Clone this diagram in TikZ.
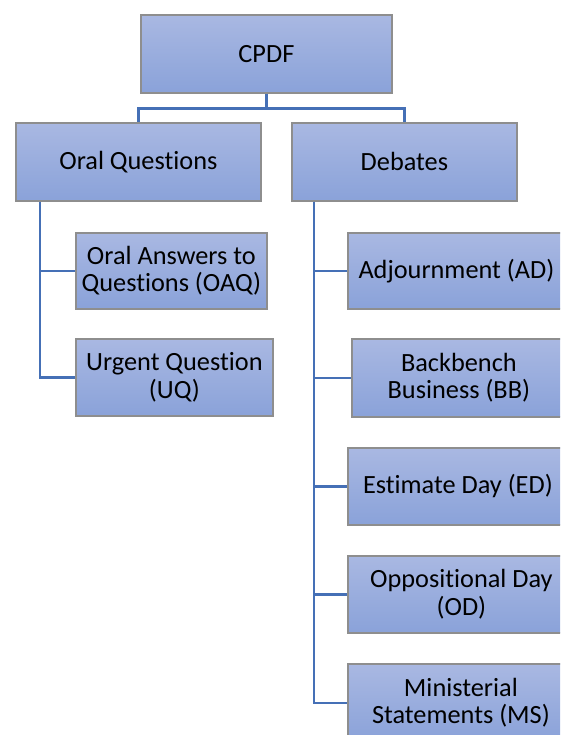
\documentclass[tikz,border=0pt]{standalone}
\usepackage{fontspec}
\setmainfont{Carlito}[Ligatures=NoCommon]
\begin{document}
\begin{tikzpicture}[x=1pt,y=-1pt,
  box/.style={draw=boxedge, line width=1.8pt, top color=boxtop, bottom color=boxbot,
    anchor=north west, inner sep=0pt, align=center,
    font=\fontsize{26.3}{27.5}\selectfont},
  link/.style={draw=linkblue, line width=2.6pt}]
\definecolor{boxtop}{HTML}{A9B8E2}
\definecolor{boxbot}{HTML}{8AA2D9}
\definecolor{boxedge}{HTML}{8E8E8E}
\definecolor{linkblue}{HTML}{4570B6}
\useasboundingbox (0,0) rectangle (560,735);
\clip (0,0) rectangle (560,735);
\fill[white] (0,0) rectangle (560,735);

% top level
\node[box, minimum width=251pt, minimum height=78pt] (cpdf) at (140,14) {CPDF};
% second level
\node[box, minimum width=245pt, minimum height=78pt] (oral) at (15,122) {Oral Questions};
\node[box, minimum width=225pt, minimum height=78pt] (deb) at (291,122) {Debates};
% oral question types
\node[box, minimum width=191pt, minimum height=76pt] (oaq) at (75,232) {Oral Answers to\\Questions (OAQ)};
\node[box, minimum width=197pt, minimum height=77pt] (uq) at (75,338) {Urgent Question\\(UQ)};
% debate types
\node[box, minimum width=217pt, minimum height=76pt] (ad) at (347,232) {Adjournment (AD)};
\node[box, minimum width=214pt, minimum height=78pt] (bb) at (351,338) {Backbench\\Business (BB)};
\node[box, minimum width=220pt, minimum height=77pt] (ed) at (347,447) {Estimate Day (ED)};
\node[box, minimum width=227pt, minimum height=77pt] (od) at (347,555) {Oppositional Day\\(OD)};
\node[box, minimum width=226pt, minimum height=78pt] (ms) at (347,663) {Ministerial\\Statements (MS)};

% connectors
\draw[link] (cpdf.south) -- ++(0,15) -| (oral.north);
\draw[link] (cpdf.south) -- ++(0,15) -| (deb.north);
\draw[link] ([xshift=25pt]oral.south west) |- (oaq.west);
\draw[link] ([xshift=25pt]oral.south west) |- (uq.west);
\draw[link] ([xshift=23pt]deb.south west) |- (ad.west);
\draw[link] ([xshift=23pt]deb.south west) |- (bb.west);
\draw[link] ([xshift=23pt]deb.south west) |- (ed.west);
\draw[link] ([xshift=23pt]deb.south west) |- (od.west);
\draw[link] ([xshift=23pt]deb.south west) |- (ms.west);
\end{tikzpicture}
\end{document}
